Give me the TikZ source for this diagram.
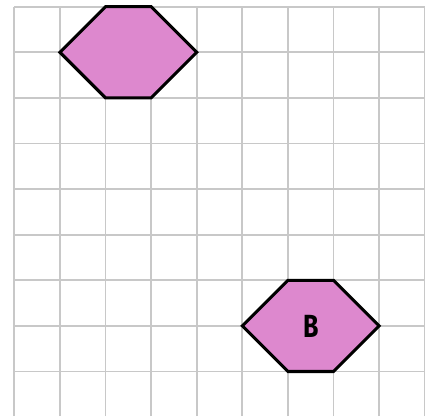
\documentclass[tikz,border=0pt]{standalone}
\usepackage{fontspec}
\newfontfamily\labelfont{Fira Sans}
\definecolor{hexpink}{RGB}{221,136,206}
\definecolor{gridgray}{RGB}{200,200,200}
\tikzset{
  gridline/.style={draw=gridgray, line width=1.2pt},
  hexshape/.style={draw=black, fill=hexpink, line width=1.9pt, line join=miter},
}
\begin{document}
\begin{tikzpicture}[x=1cm, y=1cm]
\useasboundingbox (-0.314,0.147) rectangle (9.006,-8.976);
\draw[gridline] (0,0) grid (9.006,-8.976);

\draw[hexshape] (1,-1) -- (2,0) -- (3,0) -- (4,-1) -- (3,-2) -- (2,-2) -- cycle;
\draw[hexshape] (5,-7) -- (6,-6) -- (7,-6) -- (8,-7) -- (7,-8) -- (6,-8) -- cycle;
\node (labelB) at (6.5,-7) {\scalebox{0.78}[1]{\labelfont\bfseries\fontsize{20}{22}\selectfont B}};

\end{tikzpicture}
\end{document}
